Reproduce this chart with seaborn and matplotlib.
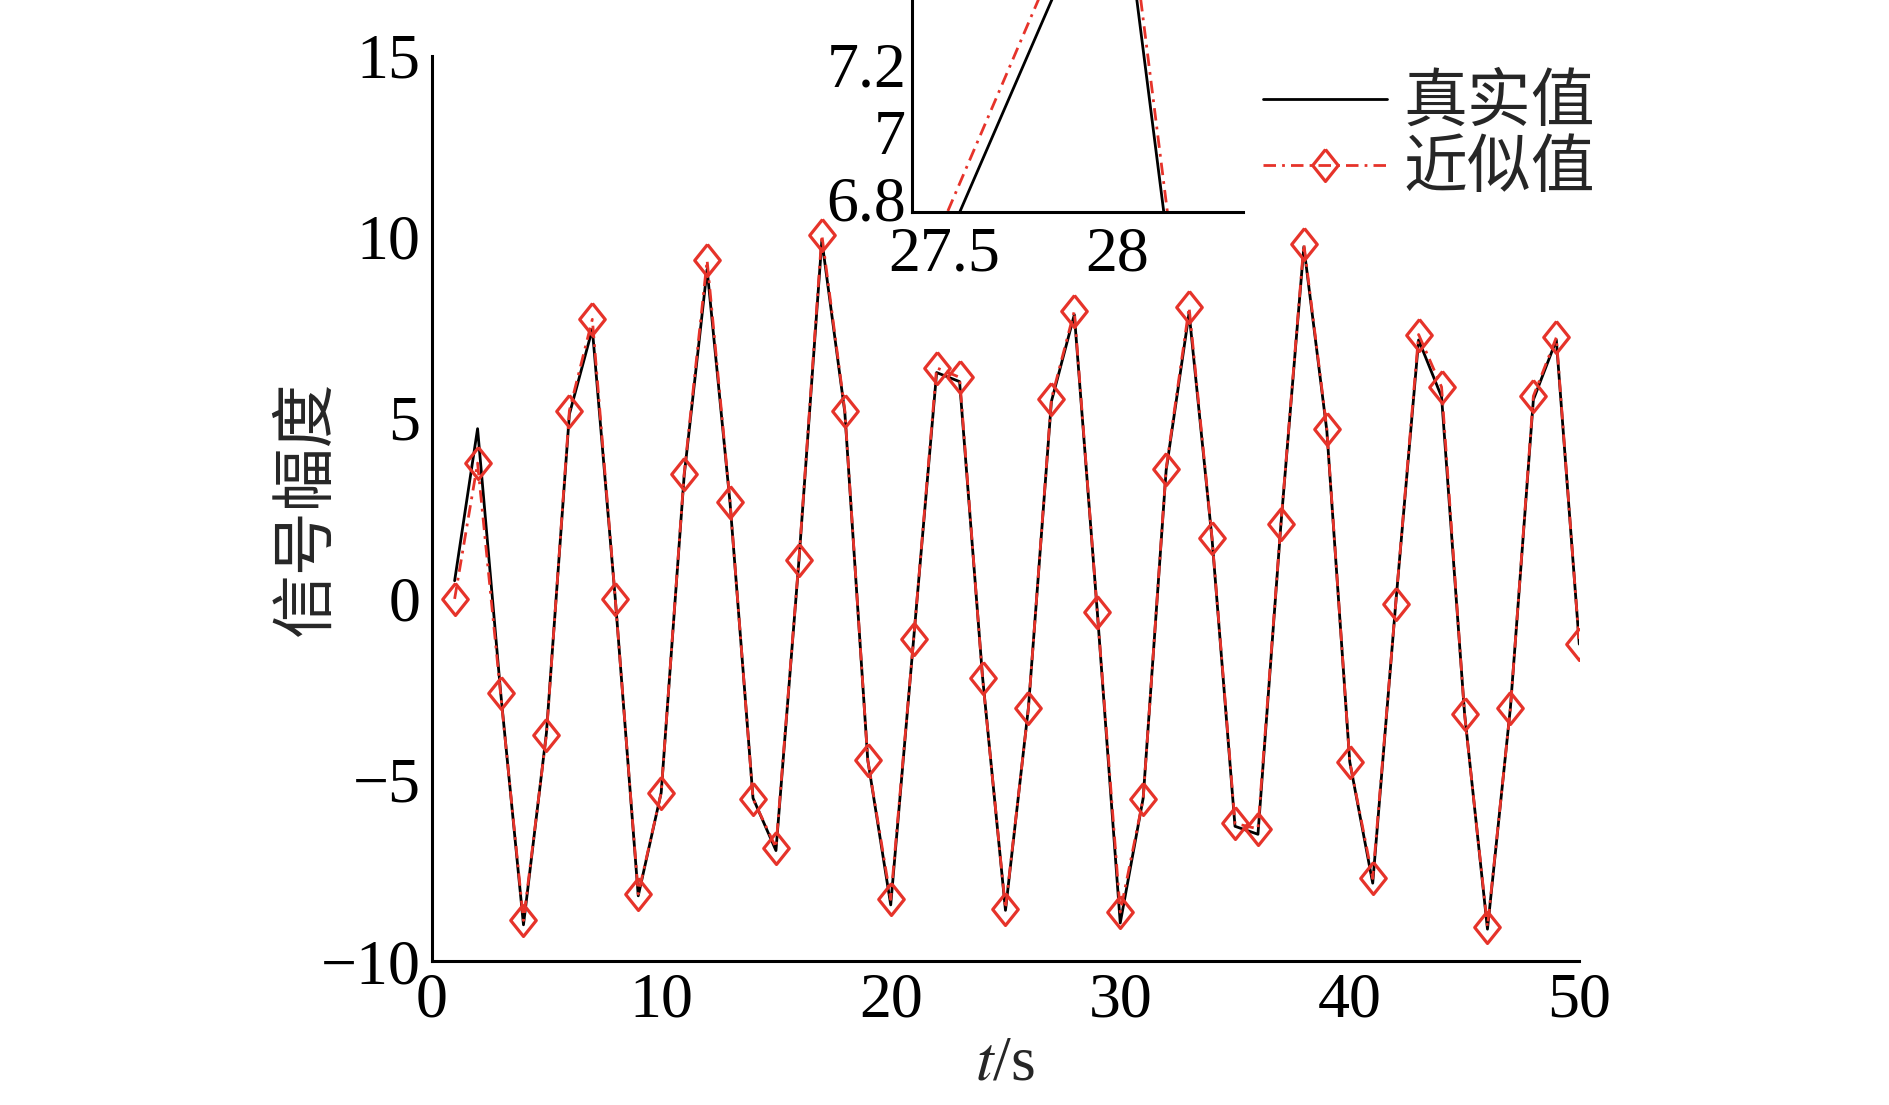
import numpy as np
import pandas as pd
import matplotlib
matplotlib.use("Agg")
import matplotlib.pyplot as plt
import seaborn as sns
from matplotlib.ticker import FuncFormatter

# time samples and signal values
t = list(range(1, 51))
true_vals = [0.5, 4.7, -2.55, -9.0, -3.7, 5.1, 7.45, 0.0, -8.2, -5.35,
             3.4, 9.1, 2.65, -5.5, -6.95, 1.05, 9.9, 5.15, -4.45, -8.45,
             -1.1, 6.25, 6.0, -2.15, -8.6, -3.0, 5.45, 7.85, -0.35, -8.95,
             -5.5, 3.55, 7.9, 1.65, -6.28, -6.5, 2.05, 9.72, 4.65, -4.5,
             -7.85, -0.15, 7.15, 5.58, -3.15, -9.12, -3.0, 5.5, 7.15, -1.25]
approx_vals = [0.0, 3.75, -2.6, -8.88, -3.75, 5.2, 7.72, 0.0, -8.15, -5.35,
               3.45, 9.35, 2.68, -5.52, -6.87, 1.08, 10.05, 5.2, -4.45, -8.3,
               -1.1, 6.38, 6.12, -2.18, -8.55, -3.02, 5.52, 7.95, -0.35, -8.65,
               -5.52, 3.6, 8.05, 1.68, -6.2, -6.35, 2.08, 9.8, 4.7, -4.5,
               -7.72, -0.15, 7.3, 5.85, -3.18, -9.05, -3.02, 5.6, 7.22, -1.25]
labels = ["真实值", "近似值"]
main_xticks = [0, 10, 20, 30, 40, 50]
main_yticks = [-10, -5, 0, 5, 10, 15]
inset_xticks = [27.5, 28]
inset_yticks = [6.8, 7, 7.2]

df = pd.DataFrame({"t": t, "true": true_vals, "approx": approx_vals})

sns.set_style("white")
plt.rcParams["font.family"] = ["Liberation Serif", "Noto Sans CJK SC"]
plt.rcParams["mathtext.fontset"] = "stix"
plt.rcParams["axes.unicode_minus"] = True

red = "#E6332A"
diamond = [(0, 1), (0.8, 0), (0, -1), (-0.8, 0), (0, 1)]
dash_dot = (0, (4.5, 2.2, 1.0, 2.2))
fs = 46


def style_axes(ax, tick_len):
    for side in ["top", "right"]:
        ax.spines[side].set_visible(False)
    for side in ["left", "bottom"]:
        ax.spines[side].set_linewidth(2.2)
        ax.spines[side].set_color("black")
    ax.tick_params(direction="in", length=tick_len, width=2.2,
                   labelsize=fs, colors="black", pad=8)


def draw_lines(ax, with_markers=True):
    sns.lineplot(data=df, x="t", y="true", ax=ax, color="black", lw=2.0,
                 errorbar=None, label=labels[0])
    mk = dict(marker=diamond, ms=23, mfc="none", mec=red, mew=2.3) if with_markers else {}
    sns.lineplot(data=df, x="t", y="approx", ax=ax, color=red, lw=2.0,
                 linestyle=dash_dot, errorbar=None, label=labels[1], **mk)


fig = plt.figure(figsize=(18.9, 11.05), dpi=100)
ax = fig.add_axes([0.2284, 0.1303, 0.6072, 0.8193])
draw_lines(ax)
ax.set_xlim(0, 50)
ax.set_ylim(-10, 15)
ax.set_xticks(main_xticks)
ax.set_yticks(main_yticks)
style_axes(ax, 7)
ax.set_xlabel("$t$/s", fontsize=fs, labelpad=4)
ax.set_ylabel("信号幅度", fontsize=fs, labelpad=-13)

handles, _ = ax.get_legend_handles_labels()
ax.legend(handles, labels, loc="center left", bbox_to_anchor=(0.6683, 0.8747),
          bbox_transform=fig.transFigure, frameon=False, fontsize=fs,
          handlelength=1.94, handletextpad=0.25, labelspacing=0.12,
          borderpad=0, borderaxespad=0, numpoints=1)

# zoomed inset around t = 27.5 .. 28.3
axin = fig.add_axes([0.4824, 0.8079, 0.1754, 0.1921])
axin.set_facecolor("white")
draw_lines(axin, with_markers=False)
axin.get_legend().remove()
axin.set_xlim(27.407, 28.362)
axin.set_ylim(6.758, 7.395)
axin.set_xticks(inset_xticks)
axin.set_yticks(inset_yticks)
fmt = FuncFormatter(lambda v, p: f"{v:g}")
axin.xaxis.set_major_formatter(fmt)
axin.yaxis.set_major_formatter(fmt)
style_axes(axin, 5)
axin.tick_params(axis="x", pad=10)
axin.tick_params(axis="y", pad=4)
axin.set_xlabel("")
axin.set_ylabel("")

fig.savefig("out.png", dpi=100)
